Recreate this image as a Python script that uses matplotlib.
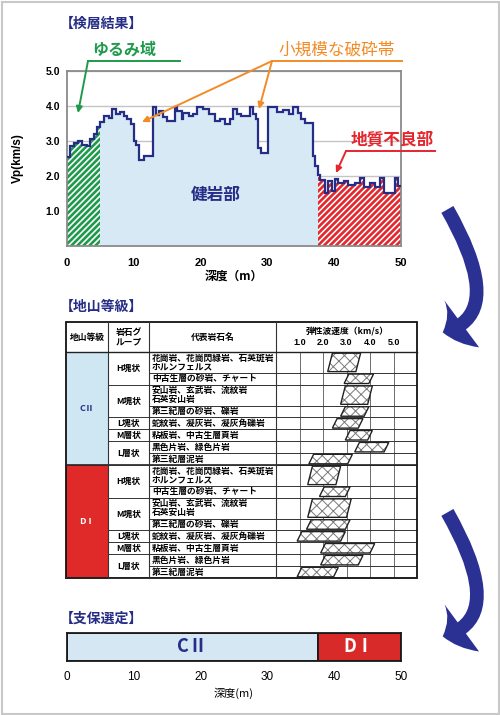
import matplotlib
matplotlib.use("Agg")
import matplotlib.pyplot as plt
import numpy as np
from matplotlib.patches import FancyArrowPatch, Polygon, Rectangle

plt.rcParams["font.family"] = ["Noto Sans CJK JP", "DejaVu Sans"]
plt.rcParams["hatch.linewidth"] = 0.7

W, H = 500, 715
NAVY = "#262d86"
GREEN = "#1f9a4c"
ORANGE = "#f28b26"
RED = "#e5262c"
LIGHT_BLUE = "#d6e9f5"

# ---- 検層結果 (深度 m / Vp km/s) ----
depth_edges = [0.0, 0.5, 1.0, 1.6, 2.3, 3.0, 3.5, 4.0, 4.5, 5.0, 5.5, 6.3, 6.7,
               7.4, 7.9, 8.5, 9.0, 9.6, 10.0, 10.3, 10.8, 11.6, 12.9, 13.3, 13.8,
               14.4, 14.9, 16.2, 16.5, 17.2, 17.4, 18.2, 18.8, 19.4, 20.4, 21.2,
               22.2, 22.9, 23.7, 24.4, 24.9, 25.4, 26.1, 27.4, 27.9, 28.3, 28.6,
               29.1, 30.1, 31.5, 32.3, 33.2, 33.8, 34.6, 35.1, 35.6, 36.8, 37.1,
               37.5, 37.9, 38.6, 39.1, 39.6, 40.1, 40.6, 41.4, 42.1, 43.1, 43.9,
               44.4, 45.4, 46.1, 46.9, 47.4, 49.1, 49.6, 50.0]
vp_values = [2.55, 2.85, 2.95, 3.0, 2.9, 2.85, 3.05, 3.2, 3.4, 3.55, 3.72, 3.67,
             3.92, 3.78, 3.82, 3.72, 3.62, 3.48, 3.0, 2.9, 2.47, 2.58, 3.96, 3.75,
             3.85, 3.7, 3.57, 3.96, 3.86, 3.62, 3.81, 3.72, 3.76, 3.96, 3.91, 3.76,
             3.57, 3.62, 3.48, 3.62, 3.91, 3.76, 3.72, 3.96, 3.76, 3.62, 2.81, 2.66,
             3.96, 3.82, 3.9, 3.78, 3.96, 3.8, 3.62, 3.52, 2.57, 2.28, 2.04, 1.90,
             1.51, 1.85, 1.56, 1.92, 1.80, 1.85, 1.75, 1.80, 1.94, 1.70, 1.80, 1.70,
             1.94, 1.52, 1.94, 1.72]
loose_zone = (0.0, 5.0)
sound_zone = (5.0, 37.5)
poor_zone = (37.5, 50.0)

# ---- 地山等級 ----
grades = ["CⅡ", "DⅠ"]
rock_groups = ["H塊状", "M塊状", "L塊状", "M層状", "L層状"]
group_sizes = [2, 2, 1, 1, 2]
rock_names = ["花崗岩、花崗閃緑岩、石英斑岩\nホルンフェルス",
              "中古生層の砂岩、チャート",
              "安山岩、玄武岩、流紋岩\n石英安山岩",
              "第三紀層の砂岩、礫岩",
              "蛇紋岩、凝灰岩、凝灰角礫岩",
              "粘板岩、中古生層頁岩",
              "黒色片岩、緑色片岩",
              "第三紀層泥岩"]
vp_low_c2 = [2.3, 3.0, 2.85, 2.85, 2.5, 3.05, 3.45, 1.5]
vp_high_c2 = [3.5, 4.05, 4.0, 3.85, 3.6, 4.0, 4.7, 3.15]
vp_low_d1 = [1.45, 1.95, 1.45, 1.4, 1.0, 2.0, 2.0, 1.0]
vp_high_d1 = [2.65, 3.05, 3.1, 3.05, 2.85, 4.1, 3.6, 2.55]
vp_ticks = [1.0, 2.0, 3.0, 4.0, 5.0]

# ---- 支保選定 ----
support_labels = ["CⅡ", "DⅠ"]
support_from = [0.0, 37.5]
support_to = [37.5, 50.0]
depth_ticks = [0, 10, 20, 30, 40, 50]


def box(left, top, right, bottom):
    return [left / W, 1 - bottom / H, (right - left) / W, (bottom - top) / H]


def latin_ticks(labels, weight="bold"):
    for lab in labels:
        lab.set_fontfamily("Liberation Sans")
        lab.set_fontweight(weight)


fig = plt.figure(figsize=(W / 100, H / 100), dpi=100)
fig.patch.set_facecolor("white")

# overlay in pixel coordinates
ov = fig.add_axes([0, 0, 1, 1])
ov.set_xlim(0, W)
ov.set_ylim(H, 0)
ov.axis("off")
ov.set_zorder(10)

# ---------------- 検層結果 ----------------
ax = fig.add_axes(box(67, 71, 401, 246))
ax.set_xlim(0, 50)
ax.set_ylim(0, 5)
edges = np.array(depth_edges)
vals = np.array(vp_values)


def zone_fill(zone, **kw):
    lo, hi = zone
    m = (edges[:-1] >= lo - 1e-9) & (edges[1:] <= hi + 1e-9)
    x = np.append(edges[:-1][m], edges[1:][m][-1])
    y = np.append(vals[m], vals[m][-1])
    return ax.fill_between(x, 0, y, step="post", lw=0, **kw)


def add_stripes(coll, color):
    path = coll.get_paths()[0]
    pos = ax.get_position()
    slope = (pos.width * W / 50) / (pos.height * H / 5)
    for c in np.arange(-30, 50, 0.9):
        ln, = ax.plot([c, c + 5 / slope], [0, 5], color=color, lw=1.9,
                      solid_capstyle="butt", zorder=2)
        ln.set_clip_path(path, ax.transData)


green = zone_fill(loose_zone, facecolor="white", zorder=1)
add_stripes(green, GREEN)
zone_fill(sound_zone, facecolor=LIGHT_BLUE, zorder=1)
red = zone_fill(poor_zone, facecolor="white", zorder=1)
add_stripes(red, RED)
ax.stairs(vals, edges, baseline=None, color=NAVY, lw=1.6, zorder=3)

ax.set_axisbelow(True)
ax.yaxis.grid(True, color="#c4c4c4", lw=1.0)
ax.set_yticks([1, 2, 3, 4, 5])
ax.set_yticklabels([f"{v:.1f}" for v in [1, 2, 3, 4, 5]])
ax.set_xticks(depth_ticks)
ax.tick_params(axis="y", length=0, pad=5, labelsize=7.5)
ax.tick_params(axis="x", length=0, pad=8.5, labelsize=8)
latin_ticks(ax.get_xticklabels() + ax.get_yticklabels())
for s in ax.spines.values():
    s.set_color("#8a8a8a")
    s.set_linewidth(1.3)
ax.set_ylabel("Vp(km/s)", fontsize=8.5, fontweight="bold", family="Liberation Sans")
ax.yaxis.set_label_coords(-0.13, 0.5)
ax.set_xlabel("深度（m）", fontsize=8.5, fontweight="bold")
ax.xaxis.set_label_coords(0.5, -0.175)
ax.xaxis.label.set_va("center")
ax.text(22.2, 1.45, "健岩部", color=NAVY, fontsize=12, fontweight="bold",
        ha="center", va="center", zorder=4)

ov.text(60, 24, "【検層結果】", color=NAVY, fontsize=10, fontweight="bold", va="center")
ov.text(124, 50, "ゆるみ域", color=GREEN, fontsize=11.5, fontweight="bold",
        ha="center", va="center")
ov.text(337, 50, "小規模な破砕帯", color=ORANGE, fontsize=12, ha="center", va="center")
ov.text(392, 139, "地質不良部", color=RED, fontsize=12, fontweight="bold",
        ha="center", va="center")


def pointer(x0, y0, x1, y1, color):
    ov.annotate("", xy=(x1, y1), xytext=(x0, y0),
                arrowprops=dict(arrowstyle="-|>", color=color, lw=1.4,
                                mutation_scale=9, shrinkA=0, shrinkB=0))


ov.plot([180, 88], [61, 61], color=GREEN, lw=1.4)
pointer(88, 61, 78, 113, GREEN)
ov.plot([402, 272], [61, 61], color=ORANGE, lw=1.4)
pointer(272, 61, 142, 122, ORANGE)
pointer(272, 61, 259, 109, ORANGE)
ov.plot([435, 346], [151, 151], color=RED, lw=1.4)
pointer(346, 151, 336, 173, RED)

# ---------------- 地山等級 ----------------
ov.text(60, 307, "【地山等級】", color=NAVY, fontsize=10, fontweight="bold", va="center")

T_L, T_R, T_TOP, T_HEAD, T_BOT = 66, 417, 322, 352, 578
COLS = [66, 108, 149, 276, 417]
FS = 6.3

units = [1.75 if "\n" in n else 1.0 for n in rock_names] * len(grades)
bounds = np.concatenate([[0], np.cumsum(units)])
total = bounds[-1]


def row_px(u):
    return T_HEAD + u * (T_BOT - T_HEAD) / total


n_rows = len(rock_names)
cell_colors = [("#cfe6f3", NAVY), ("#e02a2a", "white")]
for g, grade in enumerate(grades):
    y0, y1 = row_px(bounds[g * n_rows]), row_px(bounds[(g + 1) * n_rows])
    fc, tc = cell_colors[g]
    ov.add_patch(Rectangle((COLS[0], y0), COLS[1] - COLS[0], y1 - y0, fc=fc, lw=0))
    ov.text((COLS[0] + COLS[1]) / 2, (y0 + y1) / 2, grade, color=tc, fontsize=6.5,
            fontweight="bold", ha="center", va="center")
    ov.plot([COLS[0], T_R], [y1, y1], color="#222", lw=1.2)
    # rock groups
    start = g * n_rows
    for grp, size in zip(rock_groups, group_sizes):
        ga, gb = row_px(bounds[start]), row_px(bounds[start + size])
        ov.text((COLS[1] + COLS[2]) / 2, (ga + gb) / 2, grp, fontsize=FS,
                fontweight="bold", ha="center", va="center")
        ov.plot([COLS[1], COLS[3]], [gb, gb], color="#333", lw=0.7)
        start += size
    for i, name in enumerate(rock_names):
        k = g * n_rows + i
        ra, rb = row_px(bounds[k]), row_px(bounds[k + 1])
        ov.text(COLS[2] + 3, (ra + rb) / 2, name, fontsize=FS, fontweight="bold",
                ha="left", va="center", linespacing=1.05)
        ov.plot([COLS[2], COLS[3]], [rb, rb], color="#333", lw=0.7)

for x in COLS[1:4]:
    ov.plot([x, x], [T_TOP, T_BOT], color="#333", lw=0.8)
ov.plot([T_L, T_R], [T_HEAD, T_HEAD], color="#222", lw=1.0)
ov.add_patch(Rectangle((T_L, T_TOP), T_R - T_L, T_BOT - T_TOP, fill=False,
                       ec="#111", lw=1.3))

hy = (T_TOP + T_HEAD) / 2
ov.text((COLS[0] + COLS[1]) / 2, hy, "地山等級", fontsize=FS, fontweight="bold",
        ha="center", va="center")
ov.text((COLS[1] + COLS[2]) / 2, hy, "岩石グ\nループ", fontsize=FS, fontweight="bold",
        ha="center", va="center", linespacing=1.0)
ov.text((COLS[2] + COLS[3]) / 2, hy, "代表岩石名", fontsize=FS, fontweight="bold",
        ha="center", va="center")
ov.text(347, 332, "弾性波速度（km/s）", fontsize=FS, fontweight="bold",
        ha="center", va="center")

vax = fig.add_axes(box(COLS[3], T_HEAD, T_R, T_BOT))
vax.set_xlim(0, 6)
vax.set_ylim(total, 0)
for s in vax.spines.values():
    s.set_visible(False)
vax.xaxis.tick_top()
vax.set_xticks(vp_ticks)
vax.set_xticklabels([f"{v:.1f}" for v in vp_ticks])
vax.set_yticks([])
vax.tick_params(axis="x", length=0, pad=3.5, labelsize=6.5)
latin_ticks(vax.get_xticklabels())
vax.grid(axis="x", color="#555", lw=0.6)
vax.set_axisbelow(True)
for b in bounds[1:-1]:
    vax.axhline(b, color="#333", lw=0.7, zorder=1)

lows = vp_low_c2 + vp_low_d1
highs = vp_high_c2 + vp_high_d1
slant = 0.2
for k, (lo, hi) in enumerate(zip(lows, highs)):
    top, bot = bounds[k] + 0.1, bounds[k + 1] - 0.1
    verts = [(lo - slant / 2, bot), (hi - slant / 2, bot),
             (hi + slant / 2, top), (lo + slant / 2, top)]
    vax.add_patch(Polygon(verts, closed=True, fc="white", ec="#7a7a7a",
                          hatch="xxx", lw=0.01, zorder=3))
    vax.add_patch(Polygon(verts, closed=True, fill=False, ec="#222", lw=1.0, zorder=4))

# ---------------- 支保選定 ----------------
ov.text(60, 619, "【支保選定】", color=NAVY, fontsize=10, fontweight="bold", va="center")
bax = fig.add_axes(box(67, 633, 401, 661))
bax.set_xlim(0, 50)
bax.set_ylim(-0.5, 0.5)
widths = [b - a for a, b in zip(support_from, support_to)]
bax.barh(0, widths, left=support_from, height=1.0,
         color=["#d4e7f2", "#d92a2a"], edgecolor="#1a1a1a", lw=1.3)
for a, w, lab, tc in zip(support_from, widths, support_labels, [NAVY, "white"]):
    bax.text(a + w / 2, 0, lab, color=tc, fontsize=13, fontweight="bold",
             ha="center", va="center")
bax.set_yticks([])
bax.set_xticks(depth_ticks)
bax.tick_params(axis="x", length=0, pad=7, labelsize=8.5)
latin_ticks(bax.get_xticklabels(), weight="normal")
for s in bax.spines.values():
    s.set_color("#1a1a1a")
    s.set_linewidth(1.3)
bax.set_xlabel("深度(m)", fontsize=8)
bax.xaxis.set_label_coords(0.5, (661 - 693) / 28)
bax.xaxis.label.set_va("center")

# ---------------- curved arrows ----------------
for x0, y0, x1, y1 in [(446, 207, 440, 333), (446, 510, 440, 637)]:
    ov.add_patch(FancyArrowPatch(
        (x0, y0), (x1, y1), connectionstyle="angle3,angleA=-60,angleB=12",
        arrowstyle="simple,head_length=0.75,head_width=2.1,tail_width=0.5",
        mutation_scale=20, color="#2b3192", lw=0))

ov.add_patch(Rectangle((1.5, 1.5), W - 3, H - 3, fill=False, ec="#c8c8c8", lw=1.5))

fig.savefig("out.png", dpi=100)
